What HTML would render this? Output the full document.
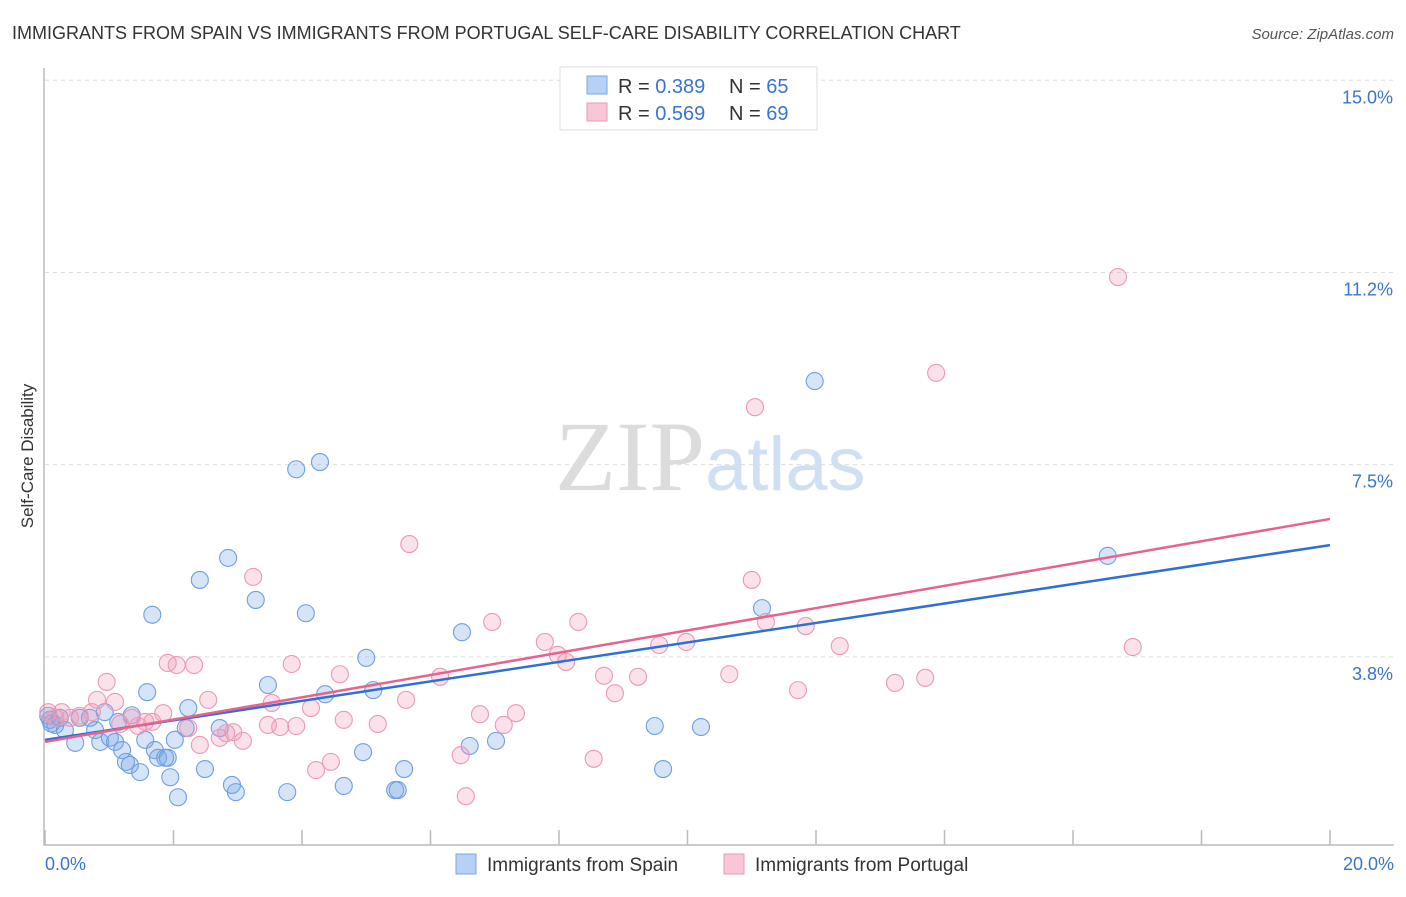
<!DOCTYPE html>
<html><head><meta charset="utf-8"><style>
body{margin:0;background:#fff;font-family:"Liberation Sans",sans-serif;}
svg text{font-family:"Liberation Sans",sans-serif;}
</style></head><body>
<svg id="chart" width="1406" height="892" xmlns="http://www.w3.org/2000/svg">
<text x="12" y="39" font-size="18" fill="#333">IMMIGRANTS FROM SPAIN VS IMMIGRANTS FROM PORTUGAL SELF-CARE DISABILITY CORRELATION CHART</text>
<text x="1394" y="39" font-size="15" fill="#555" text-anchor="end" font-style="italic">Source: ZipAtlas.com</text>
<text x="555" y="490" font-size="100"><tspan fill="#dcdcdc" font-family="Liberation Serif">ZIP</tspan><tspan fill="#cfe0f4" font-size="76">atlas</tspan></text>
<text transform="translate(33,456) rotate(-90)" font-size="17" fill="#333" text-anchor="middle">Self-Care Disability</text>
<g id="grid"></g><g id="axes"></g><g id="marks"></g>
<g>
<rect x="560" y="67" width="257" height="63" fill="#fff" stroke="#ddd"/>
<rect x="587" y="76" width="20" height="18" fill="#b7d1f4" stroke="#7aa7e6"/>
<text x="618" y="93" font-size="20" fill="#333">R = <tspan fill="#3a74d0">0.389</tspan></text>
<text x="729" y="93" font-size="20" fill="#333">N = <tspan fill="#3a74d0">65</tspan></text>
<rect x="587" y="103" width="20" height="18" fill="#f8c6d6" stroke="#ec9ab5"/>
<text x="618" y="120" font-size="20" fill="#333">R = <tspan fill="#3a74d0">0.569</tspan></text>
<text x="729" y="120" font-size="20" fill="#333">N = <tspan fill="#3a74d0">69</tspan></text>
</g>
<g>
<rect x="456" y="854" width="20" height="20" fill="#b7d1f4" stroke="#7aa7e6"/>
<text x="487" y="871" font-size="19" fill="#333">Immigrants from Spain</text>
<rect x="724" y="854" width="20" height="20" fill="#f8c6d6" stroke="#ec9ab5"/>
<text x="755" y="871" font-size="19" fill="#333">Immigrants from Portugal</text>
</g>
</svg>
<script>
const spainX=[0.05,0.1,0.08,0.16,0.23,0.31,0.47,0.54,0.70,0.78,0.86,0.93,1.01,1.09,1.14,1.20,1.26,1.32,1.35,1.48,1.56,1.59,1.67,1.71,1.76,1.87,1.91,1.95,2.02,2.07,2.19,2.23,2.41,2.49,2.72,2.85,2.91,2.97,3.28,3.47,3.77,3.91,4.06,4.28,4.36,4.65,4.95,5.00,5.11,5.45,5.49,5.59,6.49,6.61,7.02,9.49,9.62,10.21,11.16,11.98,16.54];
const spainY=[2.6,2.45,2.52,2.42,2.56,2.32,2.07,2.56,2.56,2.32,2.09,2.67,2.17,2.09,2.48,1.93,1.70,1.64,2.61,1.50,2.13,3.06,4.57,1.93,1.78,1.78,1.78,1.40,2.13,1.01,2.36,2.75,5.25,1.56,2.36,5.68,1.25,1.11,4.86,3.20,1.11,7.41,4.60,7.55,3.02,1.23,1.89,3.73,3.10,1.15,1.15,1.56,4.23,2.01,2.11,2.40,1.56,2.38,4.70,9.13,5.72];
const portX=[0.05,0.16,0.26,0.39,0.54,0.73,0.81,0.96,1.09,1.17,1.35,1.45,1.56,1.67,1.84,1.91,2.05,2.32,2.23,2.41,2.54,2.72,2.82,2.93,3.08,3.24,3.47,3.53,3.66,3.84,3.91,4.14,4.22,4.45,4.59,4.65,5.18,5.62,5.67,6.15,6.47,6.55,6.77,6.96,7.14,7.33,7.78,7.98,8.11,8.30,8.54,8.70,8.87,9.23,9.56,9.98,10.65,11.00,11.05,11.22,11.72,11.84,12.37,13.23,13.70,13.87,16.70,16.93];
const portY=[2.67,2.56,2.67,2.56,2.60,2.67,2.91,3.26,2.87,2.44,2.56,2.40,2.48,2.48,2.65,3.63,3.59,3.59,2.36,2.03,2.91,2.17,2.26,2.28,2.11,5.31,2.42,2.85,2.38,3.61,2.40,2.75,1.54,1.70,3.41,2.52,2.44,2.91,5.95,3.36,1.83,1.03,2.63,4.43,2.42,2.65,4.04,3.79,3.65,4.43,1.76,3.38,3.04,3.36,3.98,4.04,3.41,5.25,8.62,4.43,3.10,4.35,3.96,3.24,3.34,9.29,11.16,3.94];
const spainTrend=[2.13,5.93];
const portTrend=[2.09,6.44];
const yTicks=[3.75,7.5,11.25,15];
const yTickLabels=["3.8%","7.5%","11.2%","15.0%"];
const xTicks=[0,2,4,6,8,10,12,14,16,18,20];
const NS="http://www.w3.org/2000/svg";
const sx=v=>45+v*64.25, sy=v=>849-v*51.25;
function mk(tag,attrs,parent){const e=document.createElementNS(NS,tag);for(const k in attrs)e.setAttribute(k,attrs[k]);parent.appendChild(e);return e;}
const grid=document.getElementById('grid'),axes=document.getElementById('axes'),marks=document.getElementById('marks');
yTicks.forEach((t,i)=>{
 const l=mk('line',{x1:45,x2:1394,y1:sy(t),y2:sy(t),stroke:'#ddd','stroke-dasharray':'4,4'},grid);
 
 
 const tx=mk('text',{x:1393,y:sy(t)+23,'font-size':18,fill:'#3a74d0','text-anchor':'end'},axes);
 tx.textContent=yTickLabels[i];
 
 
});
const ax=mk('path',{d:'M44,68V845H1394',fill:'none',stroke:'#bbb','stroke-width':1.5},axes);


xTicks.forEach(t=>{
 const l=mk('line',{x1:sx(t),x2:sx(t),y1:830,y2:845,stroke:'#bbb','stroke-width':1.5},axes);
 
 
});
const xl0=mk('text',{x:45,y:870,'font-size':18,fill:'#3a74d0'},axes);xl0.textContent='0.0%';


const xl1=mk('text',{x:1394,y:870,'font-size':18,fill:'#3a74d0','text-anchor':'end'},axes);xl1.textContent='20.0%';


function pts(X,Y,fill,stroke,name){X.forEach((x,i)=>{
 const c=mk('circle',{cx:sx(x),cy:sy(Y[i]),r:8.5,fill:fill,stroke:stroke,'stroke-width':1.1},marks);
 
 
});}
pts(spainX,spainY,'rgba(120,165,230,0.3)','#6e9fe2','spain-point');
pts(portX,portY,'rgba(240,150,180,0.28)','#ec98b4','portugal-point');
const t1=mk('line',{x1:sx(0),y1:sy(spainTrend[0]),x2:sx(20),y2:sy(spainTrend[1]),stroke:'#2f6fd6','stroke-width':2.5},marks);


const t2=mk('line',{x1:sx(0),y1:sy(portTrend[0]),x2:sx(20),y2:sy(portTrend[1]),stroke:'#e8628e','stroke-width':2.5},marks);


</script>
</body></html>
